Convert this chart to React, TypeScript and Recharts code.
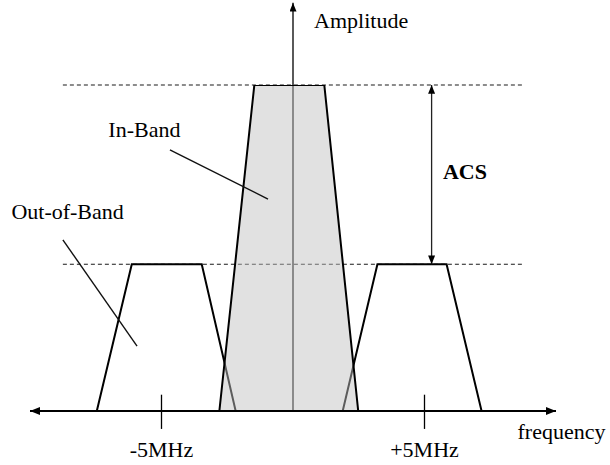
import React from "react"
import { ComposedChart, XAxis, YAxis, Area, ReferenceLine, ReferenceDot } from "recharts"

// frequency in MHz, amplitude in arbitrary units
const inBandLevel = 100
const outBandLevel = 45

const leftOutBand = [
  { f: -7.46, a: 0 },
  { f: -6.13, a: outBandLevel },
  { f: -3.47, a: outBandLevel },
  { f: -2.18, a: 0 },
]

const inBand = [
  { f: -2.8, a: 0 },
  { f: -1.47, a: inBandLevel },
  { f: 1.19, a: inBandLevel },
  { f: 2.48, a: 0 },
]

const rightOutBand = [
  { f: 1.89, a: 0 },
  { f: 3.21, a: outBandLevel },
  { f: 5.84, a: outBandLevel },
  { f: 7.17, a: 0 },
]

const tickFreqs = [-5, 5]
const tickLabels = ["-5MHz", "+5MHz"]

const serif = "'Liberation Serif', 'Times New Roman', serif"
const textStyle = { fill: "#000", fontSize: 22, fontFamily: serif }

export default function App() {
  return (
    <div style={{ position: "absolute", left: 0, top: 0, background: "#fff" }}>
      <ComposedChart
        width={610}
        height={465}
        margin={{ top: 85, right: 54, bottom: 54, left: 30 }}
      >
        <defs>
          <marker
            id="arrowHead"
            viewBox="0 0 10 8"
            refX="10"
            refY="4"
            markerWidth="10"
            markerHeight="8"
            markerUnits="userSpaceOnUse"
            orient="auto-start-reverse"
          >
            <path d="M0,0 L10,4 L0,8 z" fill="#000" />
          </marker>
          <marker
            id="smallHead"
            viewBox="0 0 10 8"
            refX="10"
            refY="4"
            markerWidth="9"
            markerHeight="7"
            markerUnits="userSpaceOnUse"
            orient="auto-start-reverse"
          >
            <path d="M0,0 L10,4 L0,8 z" fill="#000" />
          </marker>
        </defs>
        <XAxis type="number" dataKey="f" domain={[-10, 10]} allowDataOverflow hide />
        <YAxis type="number" domain={[0, 100]} allowDataOverflow hide />

        {/* dashed level lines */}
        {[inBandLevel, outBandLevel].map((lvl) => (
          <ReferenceLine
            key={lvl}
            segment={[{ x: -8.75, y: lvl }, { x: 8.75, y: lvl }]}
            stroke="#1a1a1a"
            strokeWidth={1.1}
            strokeDasharray="4 3"
            ifOverflow="visible"
            zIndex={10}
          />
        ))}

        {/* frequency axis */}
        <ReferenceLine
          segment={[{ x: -10, y: 0 }, { x: 10, y: 0 }]}
          stroke="#000"
          strokeWidth={2}
          markerStart="url(#arrowHead)"
          markerEnd="url(#arrowHead)"
          ifOverflow="visible"
          zIndex={600}
        />
        {/* amplitude axis, sits under the in-band fill */}
        <ReferenceLine
          segment={[{ x: 0, y: 0 }, { x: 0, y: 125.2 }]}
          stroke="#000"
          strokeWidth={1.3}
          markerEnd="url(#smallHead)"
          ifOverflow="visible"
          zIndex={20}
        />

        {tickFreqs.map((f, i) => (
          <ReferenceLine
            key={f}
            segment={[{ x: f, y: 5 }, { x: f, y: -5.5 }]}
            stroke="#000"
            strokeWidth={1.3}
            ifOverflow="visible"
            zIndex={600}
            label={{ value: tickLabels[i], position: "bottom", offset: 12, ...textStyle }}
          />
        ))}

        <Area data={leftOutBand} dataKey="a" type="linear" stroke="#000" strokeWidth={2}
          fill="none" fillOpacity={0} isAnimationActive={false} activeDot={false} zIndex={30} />
        <Area data={rightOutBand} dataKey="a" type="linear" stroke="#000" strokeWidth={2}
          fill="none" fillOpacity={0} isAnimationActive={false} activeDot={false} zIndex={30} />
        <Area data={inBand} dataKey="a" type="linear" stroke="#000" strokeWidth={2}
          fill="#c0c0c0" fillOpacity={0.48} baseValue={0} isAnimationActive={false}
          activeDot={false} zIndex={100} />

        {/* ACS span */}
        <ReferenceLine
          segment={[{ x: 5.27, y: outBandLevel }, { x: 5.27, y: inBandLevel }]}
          stroke="#222"
          strokeWidth={1.3}
          markerStart="url(#smallHead)"
          markerEnd="url(#smallHead)"
          ifOverflow="visible"
          zIndex={600}
        />

        {/* leader lines */}
        <ReferenceLine
          segment={[{ x: -4.68, y: 80.1 }, { x: -0.95, y: 65 }]}
          stroke="#111"
          strokeWidth={1.4}
          ifOverflow="visible"
          zIndex={600}
        />
        <ReferenceLine
          segment={[{ x: -8.75, y: 52.5 }, { x: -5.93, y: 19.9 }]}
          stroke="#111"
          strokeWidth={1.4}
          ifOverflow="visible"
          zIndex={600}
        />

        <ReferenceDot x={2.59} y={119.8} r={0} ifOverflow="visible"
          label={{ value: "Amplitude", position: "center", ...textStyle }} />
        <ReferenceDot x={-5.65} y={86.5} r={0} ifOverflow="visible"
          label={{ value: "In-Band", position: "center", ...textStyle }} />
        <ReferenceDot x={-8.57} y={61.3} r={0} ifOverflow="visible"
          label={{ value: "Out-of-Band", position: "center", ...textStyle }} />
        <ReferenceDot x={6.54} y={73.6} r={0} ifOverflow="visible"
          label={{ value: "ACS", position: "center", fontWeight: "bold", ...textStyle }} />
        <ReferenceDot x={10.21} y={-6.1} r={0} ifOverflow="visible"
          label={{ value: "frequency", position: "center", ...textStyle }} />
      </ComposedChart>
    </div>
  )
}
